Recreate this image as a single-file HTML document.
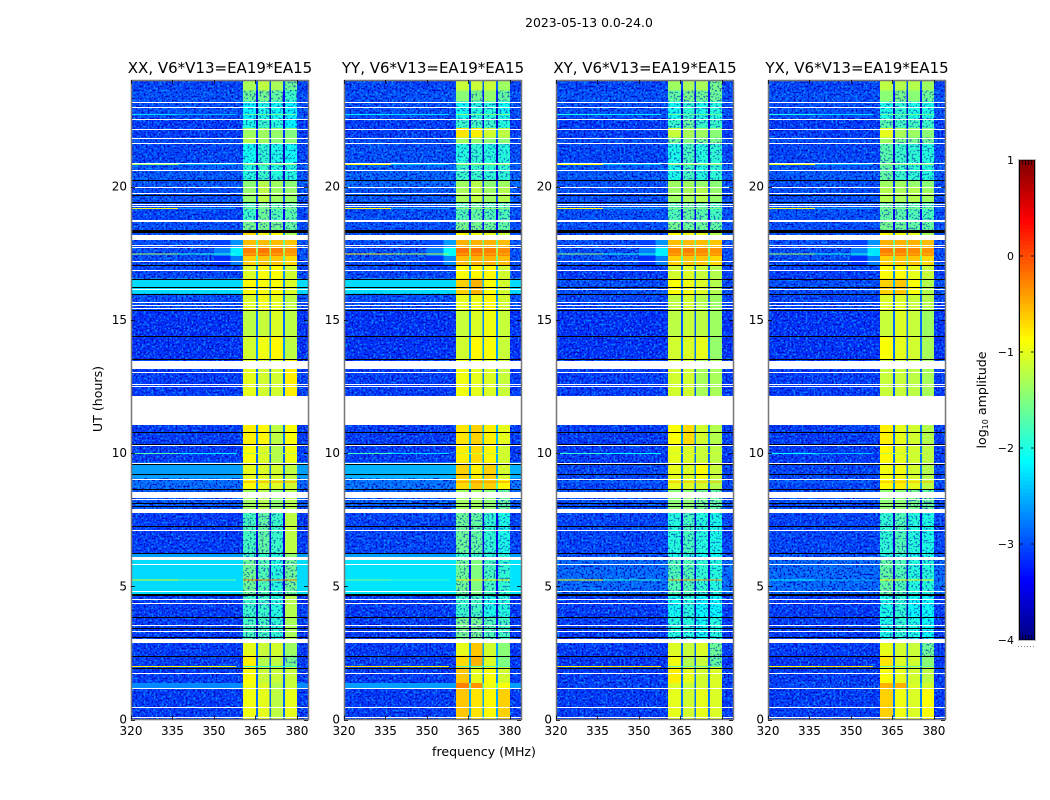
<!DOCTYPE html>
<html lang="en">
<head>
<meta charset="utf-8">
<title>2023-05-13 0.0-24.0</title>
<style>
html,body{margin:0;padding:0;background:#fff;}
svg{display:block;}
text{font-family:"DejaVu Sans","Liberation Sans",sans-serif;fill:#000;}
.tick{font-size:12px;}
.ttl{font-size:15px;}
</style>
</head>
<body>
<svg id="fig" xmlns="http://www.w3.org/2000/svg" width="1050" height="800" viewBox="0 0 1050 800">
<defs>
<filter id="speckle-light" x="0" y="0" width="1" height="1" color-interpolation-filters="sRGB">
<feTurbulence type="fractalNoise" baseFrequency="0.5" numOctaves="1" seed="4"/>
<feColorMatrix type="matrix" values="0 0 0 0 0.05  0 0 0 0 0.62  0 0 0 0 1  7 0 0 0 -3.5"/>
</filter>
<filter id="speckle-dark" x="0" y="0" width="1" height="1" color-interpolation-filters="sRGB">
<feTurbulence type="fractalNoise" baseFrequency="0.5" numOctaves="1" seed="11"/>
<feColorMatrix type="matrix" values="0 0 0 0 0  0 0 0 0 0  0 0 0 0 0.72  7 0 0 0 -3.6"/>
</filter>
</defs>
<text x="589" y="27" text-anchor="middle" font-size="12.4">2023-05-13 0.0-24.0</text>
<text transform="translate(102,399) rotate(-90)" text-anchor="middle" font-size="12.6">UT (hours)</text>
<text x="484" y="756" text-anchor="middle" font-size="12.6">frequency (MHz)</text>
<text transform="translate(986,400) rotate(-90)" text-anchor="middle" font-size="12.6">log<tspan font-size="8" dy="2">10</tspan><tspan dy="-2"> amplitude</tspan></text>
<g id="panels"></g>
<g id="colorbar"></g>
</svg>
<script>
// Time rows (UT hours) and frequency columns (MHz)
const utEdges = [0,1.17,1.37,2.0,2.4,2.95,3.85,4.7,6.1,6.25,7.8,8.65,9.05,9.65,10.3,11.05,12.13,13.5,14.4,15.35,15.97,16.55,17.06,17.4,17.7,18.0,18.3,18.7,19.4,20.0,20.25,20.9,21.6,21.85,22.2,22.55,23.2,23.6,24];
const bandEdgesMHz = [360.5,365.2,365.9,370.0,370.7,375.0,375.7,380];
const shoulderEdgesMHz = [350,356,360.5];
const freqRange = [320,384];
const utRange = [0,24];
const xTicks = [320,335,350,365,380];
const yTicks = [0,5,10,15,20];
const colorTicks = [1,0,-1,-2,-3,-4];
const colorRange = [-4,1];
const panelTitles = ["XX, V6*V13=EA19*EA15","YY, V6*V13=EA19*EA15","XY, V6*V13=EA19*EA15","YX, V6*V13=EA19*EA15"];

// Flagged data, shared by every polarisation (UT hours)
const whiteLines = [0.08,0.46,1.17,1.73,3.33,3.53,4.36,4.54,4.83,5.85,7.13,8.26,9.04,9.63,10.29,12.51,12.58,13.05,15.43,15.55,15.66,16.14,16.87,17.2,17.72,17.82,19.28,19.35,19.75,19.97,20.62,20.87,21.63,21.84,22.16,22.54,22.98,23.19];
const whiteBlockStart = [2.87,5.98,7.75,8.33,11.04,13.16,18.01,18.65];
const whiteBlockEnd = [3.01,6.08,7.91,8.54,12.13,13.45,18.19,18.73];
const blackLines = [1.93,2.39,3.10,3.42,3.85,6.25,7.25,8.0,8.13,8.64,9.2,9.6,10.33,10.8,12.12,13.54,14.39,15.35,15.97,16.25,16.54,17.06,19.41,19.7,20.25];
const blackBlockStart = [4.61,18.25];
const blackBlockEnd = [4.70,18.38];

// Narrow spectral lines: levels below 337 MHz, 337-358 MHz, and in band
const rfiUT = [1.98,5.23,8.9,9.98,17.45,19.16,20.82,22.7];
const xxRfi = [[-0.8,-0.9,-1.9],[-1.0,-1.6,-0.2],[-2.8,-2.8,-0.4],[-1.7,-2.2,-1.2],[-1.3,-1.9,-0.5],[-1.0,-2.6,-1.5],[-1.4,-2.5,-1.5],[-2.3,-2.5,-1.6]];
const yyRfi = [[-0.7,-0.8,-1.8],[-1.5,-1.8,-0.8],[-2.8,-2.8,-0.3],[-1.8,-2.3,-1.1],[-0.8,-1.2,-0.5],[-0.9,-2.6,-1.4],[-0.9,-2.4,-1.4],[-2.2,-2.3,-1.5]];
const xyRfi = [[-0.8,-0.7,-1.7],[-0.9,-1.9,-0.4],[-2.8,-2.8,-0.5],[-1.9,-2.1,-1.1],[-1.4,-2.0,-0.5],[-0.9,-2.6,-1.5],[-0.9,-2.4,-1.4],[-2.0,-2.2,-1.6]];
const yxRfi = [[-0.8,-0.7,-1.7],[-2.1,-2.5,-0.9],[-2.8,-2.8,-0.5],[-2.1,-2.4,-1.2],[-1.3,-2.0,-0.5],[-1.0,-2.6,-1.5],[-1.0,-2.5,-1.5],[-2.0,-2.3,-1.6]];

// log10 amplitude: background level per row
const xxBg = [-3.1,-2.7,-3.1,-3.1,-3.1,-3.1,-3.1,-2.3,-2.6,-3.1,-2.95,-2.85,-2.6,-3.1,-3.1,-3.1,-3.1,-3.15,-3.15,-3.0,-2.3,-3.05,-3.0,-3.0,-3.0,-3.0,-3.0,-3.05,-3.0,-2.95,-2.95,-3.05,-3.0,-3.1,-3.1,-3.0,-3.0,-3.05];
const yyBg = [-3.1,-2.6,-3.1,-3.1,-3.1,-3.1,-3.1,-2.25,-2.6,-3.05,-2.9,-2.8,-2.5,-3.1,-3.1,-3.1,-3.1,-3.15,-3.15,-3.0,-2.3,-3.05,-3.0,-3.0,-3.0,-3.0,-3.0,-3.0,-2.95,-2.85,-2.9,-3.0,-3.0,-3.1,-3.1,-3.0,-3.0,-3.05];
const xyBg = [-3.1,-3.05,-3.1,-3.15,-3.1,-3.1,-3.1,-2.85,-3.0,-3.05,-3.0,-3.05,-3.05,-3.1,-3.1,-3.1,-3.1,-3.15,-3.15,-3.05,-3.0,-3.1,-3.0,-3.0,-3.0,-3.0,-3.0,-3.0,-3.0,-3.0,-2.95,-3.05,-3.0,-3.1,-3.1,-3.0,-3.0,-3.05];
const yxBg = [-3.1,-3.05,-3.1,-3.15,-3.1,-3.1,-3.1,-2.85,-3.0,-3.05,-3.0,-3.05,-3.05,-3.1,-3.1,-3.1,-3.1,-3.15,-3.15,-3.05,-3.0,-3.1,-3.0,-3.0,-3.0,-3.0,-3.0,-3.0,-3.0,-3.0,-2.95,-3.05,-3.0,-3.1,-3.1,-3.0,-3.0,-3.05];

// log10 amplitude: four sub-bands per row
const xxBand = [[-0.95,-1.0,-1.2,-1.0],[-0.95,-1.05,-1.25,-1.15],[-0.9,-1.15,-1.15,-1.15],[-0.8,-1.25,-1.2,-1.55],[-1.0,-1.15,-1.1,-1.35],[-1.8,-1.8,-1.9,-1.3],[-1.85,-1.85,-1.95,-1.25],[-1.6,-1.75,-1.95,-1.6],[-1.85,-1.85,-1.95,-1.45],[-1.8,-1.65,-1.85,-1.2],[-1.35,-1.25,-1.45,-1.25],[-0.9,-1.0,-1.05,-1.1],[-1.0,-1.05,-1.1,-1.2],[-0.9,-1.05,-1.25,-0.95],[-0.8,-0.85,-1.2,-0.9],[-1,-1,-1,-1],[-1.0,-1.1,-1.1,-0.8],[-1.1,-0.95,-0.85,-1.2],[-1.2,-1.15,-1.05,-1.2],[-1.05,-0.95,-1.0,-1.2],[-0.85,-0.9,-0.9,-1.05],[-1.05,-0.9,-0.9,-1.1],[-0.65,-0.6,-0.6,-0.7],[-0.25,-0.2,-0.25,-0.35],[-0.55,-0.55,-0.55,-0.6],[-0.7,-0.9,-0.9,-1.3],[-1.55,-1.55,-1.55,-1.65],[-1.85,-1.6,-1.75,-1.7],[-1.4,-1.2,-1.35,-1.4],[-1.45,-1.25,-1.35,-1.45],[-1.95,-1.85,-1.95,-1.95],[-2.05,-1.9,-2.0,-2.05],[-1.25,-1.35,-1.45,-1.45],[-1.35,-1.35,-1.4,-1.5],[-2.0,-1.85,-1.95,-2.15],[-2.15,-2.0,-2.05,-2.15],[-1.6,-1.55,-1.65,-1.85],[-1.3,-1.2,-1.3,-1.6]];
const yyBand = [[-0.6,-0.75,-0.85,-0.65],[-0.25,-0.35,-0.95,-0.9],[-0.6,-1.0,-0.9,-1.1],[-0.7,-0.5,-1.05,-1.5],[-1.0,-0.6,-1.1,-1.45],[-1.55,-1.55,-1.75,-1.8],[-1.85,-1.8,-2.0,-1.95],[-1.6,-1.5,-1.8,-1.9],[-1.85,-1.85,-1.95,-1.95],[-1.6,-1.65,-1.9,-2.0],[-1.35,-1.35,-1.45,-1.65],[-0.7,-0.6,-0.65,-0.85],[-0.65,-0.8,-0.65,-1.1],[-0.8,-0.7,-0.85,-1.1],[-0.75,-0.65,-0.8,-1.0],[-1,-1,-1,-1],[-0.95,-1.0,-1.05,-1.15],[-1.1,-0.85,-0.9,-1.15],[-1.15,-1.05,-0.95,-1.15],[-1.0,-0.95,-0.85,-1.1],[-0.65,-0.5,-0.9,-1.1],[-0.9,-0.85,-0.85,-1.1],[-0.55,-0.5,-0.5,-0.55],[-0.2,-0.2,-0.25,-0.3],[-0.5,-0.5,-0.5,-0.55],[-0.9,-0.95,-1.0,-1.15],[-1.55,-1.55,-1.6,-1.65],[-1.75,-1.65,-1.75,-1.75],[-1.3,-1.2,-1.35,-1.25],[-1.35,-1.25,-1.45,-1.35],[-1.85,-1.85,-1.9,-1.9],[-1.95,-1.9,-1.95,-1.95],[-1.35,-1.4,-1.45,-1.45],[-0.75,-0.8,-1.1,-1.2],[-1.85,-1.8,-1.85,-1.95],[-2.05,-1.95,-1.95,-2.05],[-1.45,-1.55,-1.4,-1.65],[-1.15,-1.15,-1.15,-1.35]];
const xyBand = [[-1.0,-1.1,-1.0,-1.05],[-1.05,-1.15,-1.1,-1.05],[-0.8,-1.0,-1.1,-1.05],[-0.95,-1.25,-1.15,-1.65],[-1.05,-1.15,-1.05,-1.6],[-1.95,-1.95,-2.05,-1.95],[-2.05,-1.95,-2.1,-2.1],[-1.75,-1.75,-1.9,-1.95],[-2.0,-1.95,-2.05,-2.05],[-1.95,-1.8,-1.95,-2.0],[-1.45,-1.45,-1.55,-1.65],[-1.0,-1.05,-1.1,-1.25],[-1.0,-1.05,-0.9,-1.15],[-1.0,-1.05,-1.15,-1.2],[-0.9,-0.7,-1.1,-1.25],[-1,-1,-1,-1],[-1.1,-1.1,-1.3,-1.3],[-1.1,-1.05,-1.0,-1.4],[-1.2,-1.15,-1.2,-1.35],[-1.2,-1.1,-1.25,-1.35],[-0.9,-0.95,-1.05,-1.25],[-1.1,-1.05,-1.15,-1.25],[-0.65,-0.6,-0.6,-0.7],[-0.3,-0.25,-0.3,-0.35],[-0.55,-0.55,-0.55,-0.6],[-0.9,-0.95,-1.0,-1.25],[-1.55,-1.6,-1.6,-1.65],[-1.75,-1.65,-1.7,-1.8],[-1.35,-1.3,-1.25,-1.4],[-1.35,-1.35,-1.4,-1.45],[-2.0,-1.8,-1.95,-1.9],[-2.0,-1.8,-1.95,-1.9],[-1.6,-1.5,-1.55,-1.55],[-1.15,-1.3,-1.35,-1.45],[-1.85,-1.65,-1.85,-1.85],[-2.05,-1.9,-2.0,-1.95],[-1.65,-1.55,-1.6,-1.6],[-1.35,-1.3,-1.3,-1.55]];
const yxBand = [[-0.65,-0.95,-1.05,-0.9],[-0.5,-0.5,-1.05,-1.1],[-0.9,-1.0,-1.1,-1.2],[-0.75,-1.05,-1.1,-1.45],[-1.0,-1.1,-1.15,-1.6],[-2.0,-1.9,-2.0,-2.1],[-2.0,-1.9,-2.1,-2.1],[-1.65,-1.75,-1.95,-1.95],[-1.95,-1.9,-2.0,-2.0],[-1.9,-1.75,-1.95,-2.0],[-1.45,-1.45,-1.55,-1.65],[-0.85,-0.8,-1.0,-1.2],[-0.95,-0.95,-1.1,-1.25],[-0.85,-1.0,-1.1,-1.2],[-0.8,-1.0,-1.1,-1.25],[-1,-1,-1,-1],[-1.15,-1.15,-1.2,-1.3],[-0.9,-1.0,-1.1,-1.3],[-1.15,-1.05,-1.15,-1.35],[-1.05,-1.05,-1.15,-1.25],[-0.65,-0.6,-0.9,-1.25],[-0.9,-0.9,-1.0,-1.15],[-0.65,-0.6,-0.6,-0.7],[-0.25,-0.25,-0.3,-0.35],[-0.5,-0.5,-0.5,-0.55],[-0.9,-0.95,-1.0,-1.3],[-1.55,-1.6,-1.65,-1.65],[-1.65,-1.7,-1.75,-1.8],[-1.25,-1.3,-1.25,-1.35],[-1.35,-1.35,-1.4,-1.45],[-1.65,-1.85,-1.9,-1.95],[-1.7,-1.85,-1.9,-1.95],[-1.35,-1.55,-1.55,-1.6],[-1.0,-1.3,-1.35,-1.45],[-1.7,-1.8,-1.8,-1.85],[-2.0,-1.9,-2.0,-2.0],[-1.45,-1.55,-1.45,-1.6],[-1.2,-1.25,-1.25,-1.35]];

// Shoulder below the band during the 17-18 UT event (rows 22, 23, 24)
const shoulderRows = [22,23,24];
const xxShoulder = [-2.75,-2.2,-2.65];
const yyShoulder = [-2.7,-2.15,-2.6];
const xyShoulder = [-2.75,-2.2,-2.65];
const yxShoulder = [-2.75,-2.25,-2.65];

const NS = 'http://www.w3.org/2000/svg';
const panelLeft = [131,344,556,768];
const panelWidth = 177;
const plotTop = 80;
const plotBottom = 719.5;

function scaleX(left, f){ return left + (f - freqRange[0]) / (freqRange[1] - freqRange[0]) * panelWidth; }
function scaleY(ut){ return plotBottom - (ut - utRange[0]) / (utRange[1] - utRange[0]) * (plotBottom - plotTop); }
function clamp01(v){ return Math.max(0, Math.min(1, v)); }
function jet(t){
  const r = clamp01(Math.min(4*t - 1.5, -4*t + 4.5));
  const g = clamp01(Math.min(4*t - 0.5, -4*t + 3.5));
  const b = clamp01(Math.min(4*t + 0.5, -4*t + 2.5));
  return 'rgb(' + Math.round(r*255) + ',' + Math.round(g*255) + ',' + Math.round(b*255) + ')';
}
function levelColor(v){ return jet((v - colorRange[0]) / (colorRange[1] - colorRange[0])); }
function make(tag, attrs, parent){
  const el = document.createElementNS(NS, tag);
  for (const k in attrs) el.setAttribute(k, attrs[k]);
  parent.appendChild(el);
  return el;
}

const panelsRoot = document.getElementById('panels');
const panelBg = [xxBg, yyBg, xyBg, yxBg];
const panelBand = [xxBand, yyBand, xyBand, yxBand];
const panelShoulder = [xxShoulder, yyShoulder, xyShoulder, yxShoulder];
const panelRfi = [xxRfi, yyRfi, xyRfi, yxRfi];
const panelKey = ['xx','yy','xy','yx'];

panelTitles.forEach(function(title, p){
  const left = panelLeft[p];
  const g = make('g', {}, panelsRoot);
  
  
  const cells = make('g', {'shape-rendering':'crispEdges'}, g);
  
  

  function cell(f0, f1, u0, u1, level, name){
    const x0 = scaleX(left, f0), x1 = scaleX(left, f1);
    const y0 = scaleY(u1), y1 = scaleY(u0);
    const r = make('rect', {x:x0, y:y0, width:Math.max(x1-x0,1), height:Math.max(y1-y0,1), fill:levelColor(level)}, cells);
    
    
  }
  function speckle(f0, f1, u0, u1, fid, opacity){
    const x0 = scaleX(left, f0), x1 = scaleX(left, f1);
    const y0 = scaleY(u1), y1 = scaleY(u0);
    const r = make('rect', {x:x0, y:y0, width:x1-x0, height:y1-y0, filter:'url(#'+fid+')', opacity:opacity}, cells);
    
    
  }

  const bg = panelBg[p], band = panelBand[p];
  for (let i = 0; i < utEdges.length - 1; i++) {
    const u0 = utEdges[i], u1 = utEdges[i+1];
    cell(freqRange[0], bandEdgesMHz[0], u0, u1, bg[i], 'background-cell');
    cell(bandEdgesMHz[7], freqRange[1], u0, u1, bg[i], 'background-cell');
  }

  // Speckle texture on the quiet out-of-band rows only; bright rows are smooth
  for (let i = 0; i < utEdges.length - 1; i++) {
    if (bg[i] > -2.75) continue;
    const u0 = utEdges[i], u1 = utEdges[i+1];
    [[freqRange[0], bandEdgesMHz[0]],[bandEdgesMHz[7], freqRange[1]]].forEach(function(span){
      speckle(span[0], span[1], u0, u1, 'speckle-light', 0.75);
      speckle(span[0], span[1], u0, u1, 'speckle-dark', 0.8);
    });
  }

  for (let i = 0; i < utEdges.length - 1; i++) {
    const u0 = utEdges[i], u1 = utEdges[i+1];
    const lv = band[i];
    const avg = (lv[1] + lv[2]) / 2;
    const gap = avg > -0.7 ? avg - 1.1 : avg - 1.75;
    for (let b = 0; b < 4; b++) {
      cell(bandEdgesMHz[b*2], bandEdgesMHz[b*2+1], u0, u1, lv[b], 'band-cell');
      if (lv[b] < -1.5) speckle(bandEdgesMHz[b*2], bandEdgesMHz[b*2+1], u0, u1, 'speckle-dark', 0.5);
      if (b < 3) cell(bandEdgesMHz[b*2+1], bandEdgesMHz[b*2+2], u0, u1, gap, 'band-gap-cell');
    }
  }

  panelShoulder[p].forEach(function(v, k){
    const row = shoulderRows[k];
    cell(shoulderEdgesMHz[0], shoulderEdgesMHz[1], utEdges[row], utEdges[row+1], Math.min(v - 0.4, -2.75), 'shoulder-cell');
    cell(shoulderEdgesMHz[1], shoulderEdgesMHz[2], utEdges[row], utEdges[row+1], v, 'shoulder-cell');
  });

  rfiUT.forEach(function(ut, k){
    const lv = panelRfi[p][k];
    const h = 0.03;
    cell(320, 337, ut, ut + h, lv[0], 'rfi-line');
    cell(337, 358, ut, ut + h, lv[1], 'rfi-line');
    cell(360.5, 380, ut, ut + h, lv[2], 'rfi-line');
  });

  const flagG = make('g', {'shape-rendering':'crispEdges'}, g);
  
  
  function flag(u0, heightPx, color, name){
    const r = make('rect', {x:left+1, y:Math.round(scaleY(u0)), width:panelWidth-1, height:heightPx, fill:color}, flagG);
    
    
  }
  blackLines.forEach(function(u){ flag(u, 1, '#000', 'black-flag'); });
  blackBlockStart.forEach(function(u, k){ flag(blackBlockEnd[k], Math.max(1, Math.round(scaleY(u) - scaleY(blackBlockEnd[k]))), '#000', 'black-flag'); });
  whiteLines.forEach(function(u){ flag(u, 1, '#fff', 'white-flag'); });
  whiteBlockStart.forEach(function(u, k){ flag(whiteBlockEnd[k], Math.max(1, Math.round(scaleY(u) - scaleY(whiteBlockEnd[k]))), '#fff', 'white-flag'); });

  // Frame
  const frame = make('rect', {x:left+0.5, y:plotTop+0.5, width:panelWidth, height:plotBottom-plotTop-0.5, fill:'none', stroke:'#777', 'stroke-width':1.5}, g);
  
  

  // X ticks
  xTicks.forEach(function(t){
    const x = Math.round(scaleX(left, t)) + 0.5;
    const a = make('line', {x1:x, x2:x, y1:plotBottom, y2:plotBottom-4, stroke:'#000', 'stroke-width':0.8}, g);
    
    
    const b = make('line', {x1:x, x2:x, y1:plotTop, y2:plotTop+4, stroke:'#000', 'stroke-width':0.8}, g);
    
    
    const lab = make('text', {x:scaleX(left, t), y:735, 'text-anchor':'middle', 'class':'tick'}, g);
    lab.textContent = String(t);
    
    
  });

  // Y ticks
  yTicks.forEach(function(t){
    const y = Math.round(scaleY(t)) + 0.5;
    const a = make('line', {x1:left, x2:left+4, y1:y, y2:y, stroke:'#000', 'stroke-width':0.8}, g);
    
    
    const b = make('line', {x1:left+panelWidth, x2:left+panelWidth-4, y1:y, y2:y, stroke:'#000', 'stroke-width':0.8}, g);
    
    
    const lab = make('text', {x:left-4, y:scaleY(t)+4, 'text-anchor':'end', 'class':'tick'}, g);
    lab.textContent = String(t);
    
    
  });

  const ttl = make('text', {x:left+panelWidth/2+0.5, y:73, 'text-anchor':'middle', 'class':'ttl'}, g);
  ttl.textContent = title;
  
  
});

// Colorbar
const cbRoot = document.getElementById('colorbar');
const cbX = 1019, cbW = 16, cbTop = 160, cbBottom = 640;
function cbY(v){ return cbBottom - (v - colorRange[0]) / (colorRange[1] - colorRange[0]) * (cbBottom - cbTop); }
const cbSteps = 120;
const cbStrip = make('g', {'shape-rendering':'crispEdges'}, cbRoot);


for (let i = 0; i < cbSteps; i++) {
  const v0 = colorRange[0] + (colorRange[1]-colorRange[0]) * i / cbSteps;
  const v1 = colorRange[0] + (colorRange[1]-colorRange[0]) * (i+1) / cbSteps;
  make('rect', {x:cbX, y:cbY(v1), width:cbW, height:cbY(v0)-cbY(v1)+0.5, fill:levelColor((v0+v1)/2)}, cbStrip);
}
const cbFrame = make('rect', {x:cbX+0.5, y:cbTop, width:cbW-1, height:cbBottom-cbTop, fill:'none', stroke:'#000', 'stroke-width':1}, cbRoot);


const cbHalo = make('rect', {x:cbX-0.5, y:cbTop-0.5, width:cbW+1, height:cbBottom-cbTop+1, fill:'none', stroke:'#bbb', 'stroke-width':1}, cbRoot);


colorTicks.forEach(function(t){
  const y = cbY(t);
  const lab = make('text', {x:1014, y:y+4, 'text-anchor':'end', 'font-size':'11'}, cbRoot);
  lab.textContent = String(t).replace('-', '\u2212');
  
  
  if (t > colorRange[0] && t < colorRange[1]) {
    const a = make('line', {x1:cbX, x2:cbX+4, y1:y, y2:y, stroke:'#000', 'stroke-width':0.8}, cbRoot);
    
    
    const b = make('line', {x1:cbX+cbW, x2:cbX+cbW-4, y1:y, y2:y, stroke:'#000', 'stroke-width':0.8}, cbRoot);
    
    
  }
});
const cbMinorOffsets = [0,3,6,9,12,15];
cbMinorOffsets.forEach(function(dx){
  const a = make('line', {x1:cbX+dx+0.5, x2:cbX+dx+0.5, y1:cbTop, y2:cbTop+5, stroke:'#000', 'stroke-width':0.7}, cbRoot);
  
  
  const b = make('line', {x1:cbX+dx+0.5, x2:cbX+dx+0.5, y1:cbBottom, y2:cbBottom-5, stroke:'#000', 'stroke-width':0.7}, cbRoot);
  
  
  const d = make('rect', {x:cbX+dx-1, y:646, width:1, height:1, fill:'#888'}, cbRoot);
  
  
});
</script>
</body>
</html>
